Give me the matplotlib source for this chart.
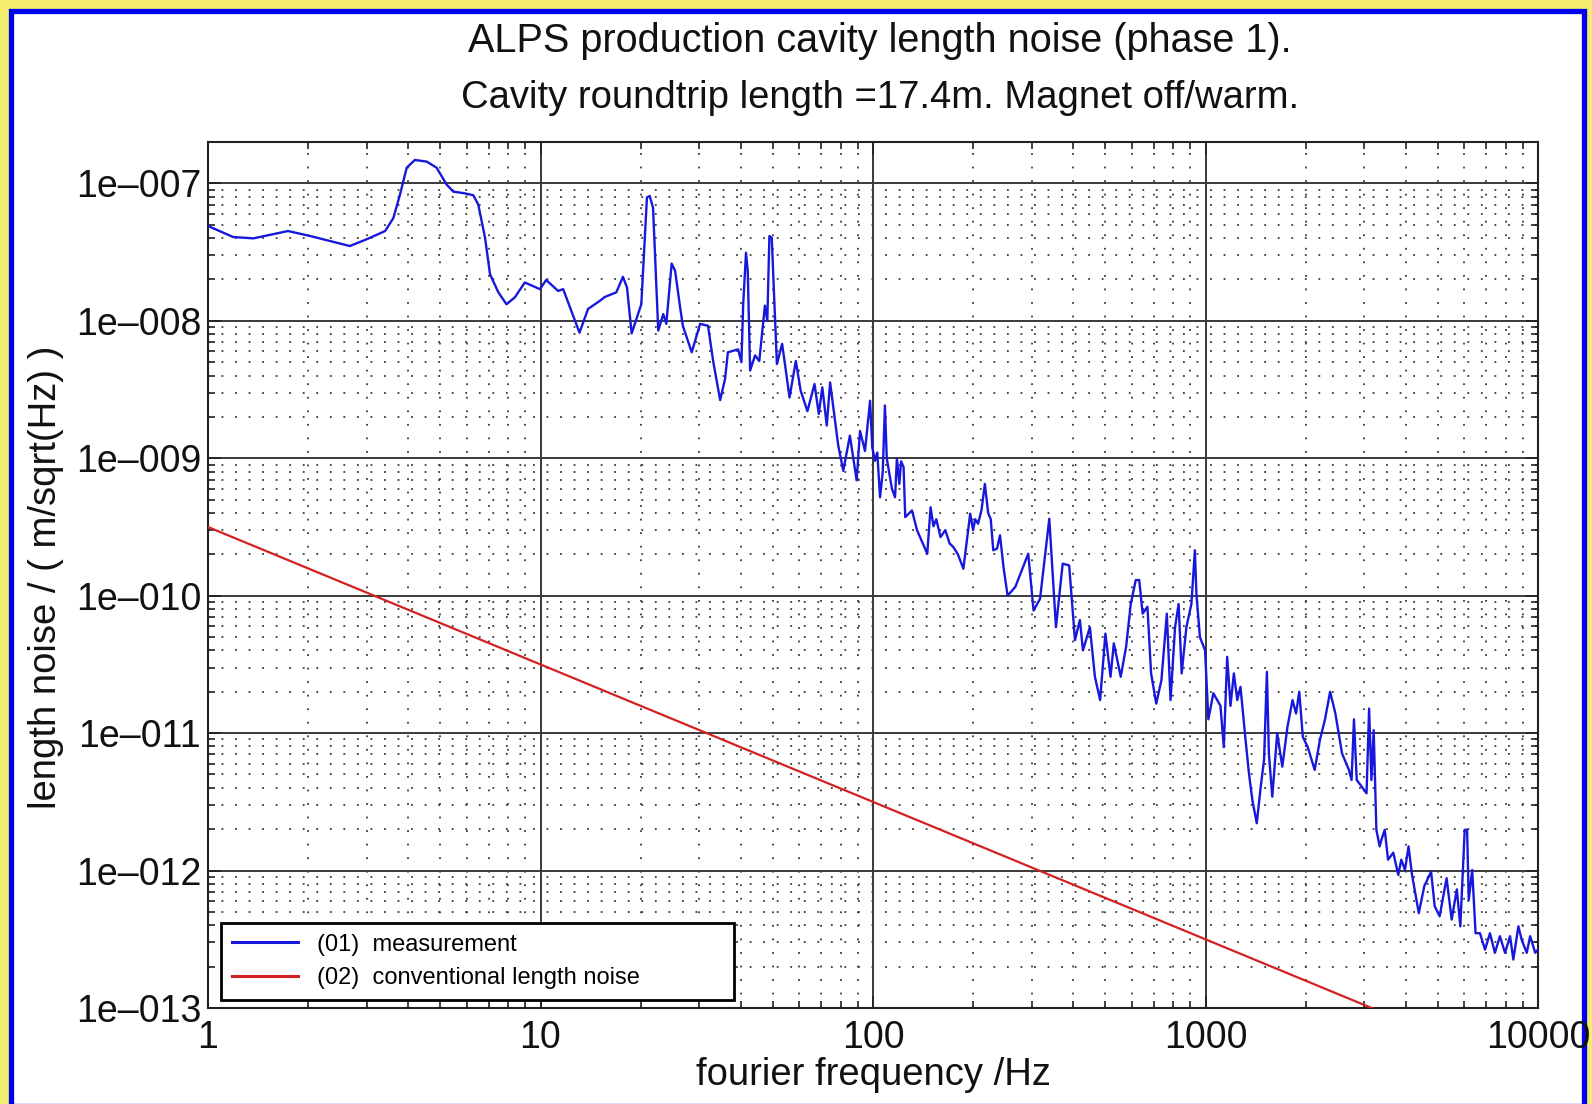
from __future__ import annotations

import matplotlib

matplotlib.use("Agg")
import matplotlib.pyplot as plt
import numpy as np
from matplotlib.patches import Rectangle
from matplotlib.ticker import FixedLocator, FuncFormatter, LogLocator, NullFormatter

plt.rcParams["font.family"] = ["Liberation Sans", "DejaVu Sans"]

FIG_W, FIG_H = 1592, 1104

TITLE_1 = "ALPS production cavity length noise (phase 1)."
TITLE_2 = "Cavity roundtrip length =17.4m. Magnet off/warm."
X_LABEL = "fourier frequency /Hz"
Y_LABEL = "length noise / ( m/sqrt(Hz) )"
LEGEND_LABELS = ["(01)  measurement", "(02)  conventional length noise"]

X_TICKS = [1, 10, 100, 1000, 10000]
Y_TICKS = [1e-13, 1e-12, 1e-11, 1e-10, 1e-9, 1e-8, 1e-7]

meas_freq = [
    1.0, 1.19, 1.37, 1.74, 2.03, 2.67, 3.0, 3.41, 3.61, 3.78,
    3.96, 4.19, 4.55, 4.87, 5.22, 5.47, 5.86, 6.28, 6.5, 6.81,
    7.05, 7.47, 7.9, 8.37, 8.97, 9.96, 10.4, 11.3, 11.7, 13.1,
    13.9, 15.1, 15.6, 16.9, 17.7, 18.2, 18.8, 20.1, 20.9, 21.3,
    21.8, 22.6, 23.4, 23.9, 24.8, 25.4, 26.3, 26.8, 28.5, 30.2,
    31.9, 33.1, 34.7, 35.9, 36.6, 39.3, 40.2, 40.7, 41.5, 42.0,
    42.7, 44.2, 45.5, 47.3, 48.1, 48.8, 49.6, 51.4, 53.3, 56.1,
    58.6, 60.6, 63.5, 66.7, 68.7, 70.4, 72.6, 74.3, 78.6, 81.4,
    85.2, 89.3, 91.4, 94.6, 98.0, 99.5, 101.4, 103, 105, 107,
    108.6, 110, 112.5, 114, 116.5, 118, 120, 121.5, 123.6, 125,
    131, 135.7, 145.6, 149, 152, 155, 159.6, 165, 170, 174.4,
    180, 187, 196, 200, 203, 207, 212, 217, 222, 226,
    230, 236, 241, 247, 254, 268, 293, 304, 318, 339,
    355, 372, 389, 405, 419, 428, 449, 465, 482, 500,
    518, 530, 556, 577, 596, 617, 632, 647, 669, 686,
    711, 737, 765, 785, 810, 830, 848, 876, 907, 929,
    939, 962, 997, 1020, 1056, 1109, 1135, 1162, 1189, 1217,
    1246, 1274, 1320, 1351, 1383, 1426, 1466, 1500, 1530, 1551,
    1588, 1643, 1702, 1764, 1827, 1872, 1914, 1962, 2030, 2130,
    2208, 2288, 2370, 2458, 2575, 2700, 2750, 2796, 2850, 2950,
    3050, 3105, 3155, 3205, 3265, 3340, 3380, 3460, 3540, 3670,
    3800, 3880, 3980, 4080, 4180, 4380, 4550, 4770, 4890, 5060,
    5310, 5500, 5700, 5840, 6020, 6120, 6190, 6340, 6490, 6690,
    6930, 7170, 7420, 7680, 7960, 8240, 8430, 8730, 8930, 9250,
    9470, 9810, 10000,
]
meas_noise = [
    4.9e-8, 4.07e-8, 3.98e-8, 4.5e-8, 4.14e-8, 3.5e-8, 3.92e-8, 4.5e-8, 5.6e-8, 8.3e-8,
    1.30e-7, 1.48e-7, 1.44e-7, 1.30e-7, 9.8e-8, 8.7e-8, 8.5e-8, 8.2e-8, 7.0e-8, 4.03e-8,
    2.18e-8, 1.61e-8, 1.32e-8, 1.48e-8, 1.90e-8, 1.70e-8, 1.98e-8, 1.65e-8, 1.70e-8, 8.2e-9,
    1.22e-8, 1.40e-8, 1.49e-8, 1.61e-8, 2.09e-8, 1.75e-8, 8.1e-9, 1.32e-8, 7.9e-8, 8.1e-8,
    6.65e-8, 8.5e-9, 1.12e-8, 9.5e-9, 2.61e-8, 2.31e-8, 1.25e-8, 9.2e-9, 5.9e-9, 9.5e-9,
    9.2e-9, 5.0e-9, 2.65e-9, 3.78e-9, 5.9e-9, 6.2e-9, 5.0e-9, 1.32e-8, 3.13e-8, 2.31e-8,
    4.35e-9, 5.6e-9, 5.1e-9, 1.29e-8, 1.0e-8, 4.14e-8, 4.03e-8, 4.85e-9, 6.8e-9, 2.77e-9,
    5.1e-9, 3.1e-9, 2.2e-9, 3.47e-9, 2.1e-9, 3.28e-9, 1.73e-9, 3.56e-9, 1.24e-9, 8.1e-10,
    1.46e-9, 6.9e-10, 1.58e-9, 1.13e-9, 2.62e-9, 1.2e-9, 9.6e-10, 1.1e-9, 5.2e-10, 8.0e-10,
    2.42e-9, 1.0e-9, 7.3e-10, 6.0e-10, 5.2e-10, 1.0e-9, 6.5e-10, 9.5e-10, 8.6e-10, 3.73e-10,
    4.17e-10, 2.99e-10, 2.02e-10, 4.4e-10, 3.2e-10, 3.6e-10, 2.67e-10, 3.0e-10, 2.4e-10, 2.26e-10,
    2.0e-10, 1.57e-10, 3.95e-10, 3.0e-10, 3.6e-10, 3.34e-10, 4.2e-10, 6.5e-10, 4.0e-10, 3.6e-10,
    2.14e-10, 2.2e-10, 2.75e-10, 1.6e-10, 1.0e-10, 1.16e-10, 2.02e-10, 7.8e-11, 9.5e-11, 3.63e-10,
    5.9e-11, 1.71e-10, 1.66e-10, 4.75e-11, 6.65e-11, 4.0e-11, 5.9e-11, 2.57e-11, 1.74e-11, 5.3e-11,
    2.57e-11, 4.5e-11, 2.57e-11, 4.24e-11, 8.7e-11, 1.30e-10, 1.30e-10, 7.4e-11, 8.3e-11, 2.72e-11,
    1.64e-11, 2.43e-11, 7.4e-11, 1.74e-11, 5.9e-11, 8.7e-11, 2.72e-11, 5.9e-11, 8.7e-11, 2.14e-10,
    1.03e-10, 5.0e-11, 4.0e-11, 1.26e-11, 1.95e-11, 1.58e-11, 7.9e-12, 3.59e-11, 1.58e-11, 2.72e-11,
    1.74e-11, 2.17e-11, 8.9e-12, 5.1e-12, 3.27e-12, 2.21e-12, 4.08e-12, 6.4e-12, 2.79e-11, 7.1e-12,
    3.45e-12, 1.0e-11, 5.7e-12, 1.11e-11, 1.74e-11, 1.39e-11, 2.0e-11, 9.4e-12, 7.9e-12, 5.4e-12,
    8.9e-12, 1.26e-11, 2.0e-11, 1.39e-11, 7.1e-12, 5.4e-12, 4.56e-12, 1.26e-11, 4.56e-12, 4.08e-12,
    3.65e-12, 1.51e-11, 4.56e-12, 1.05e-11, 1.98e-12, 1.5e-12, 1.67e-12, 1.98e-12, 1.2e-12, 1.35e-12,
    9.3e-13, 1.2e-12, 1.01e-12, 1.5e-12, 9.3e-13, 4.9e-13, 7.7e-13, 9.8e-13, 5.5e-13, 4.65e-13,
    8.8e-13, 4.4e-13, 7.3e-13, 3.93e-13, 1.98e-12, 1.98e-12, 6.1e-13, 1.01e-12, 3.5e-13, 3.5e-13,
    2.66e-13, 3.5e-13, 2.52e-13, 3.33e-13, 2.52e-13, 3.33e-13, 2.25e-13, 3.93e-13, 3.14e-13, 2.52e-13,
    3.33e-13, 2.52e-13, 2.66e-13,
]

# (02) conventional length noise, straight 1/f line
conv_freq = [1, 10000]
conv_noise = [3.16e-10, 3.16e-14]


def px_x(x: float) -> float:
    return x / FIG_W


def px_y(y: float) -> float:
    return 1.0 - y / FIG_H


def y_label_fmt(value: float, pos: int) -> str:
    exp = int(round(np.log10(value)))
    return f"1e\u2013{-exp:03d}"


def draw_frame(fig: plt.Figure) -> None:
    fig.patch.set_facecolor("#f3ec6c")
    frame = Rectangle(
        (px_x(10.5), px_y(1105.5)),
        px_x(1583.5) - px_x(10.5),
        px_y(10.5) - px_y(1105.5),
        transform=fig.transFigure,
        facecolor="white",
        edgecolor="#0000f0",
        linewidth=3.8,
        zorder=-10,
    )
    fig.patches.append(frame)


def main() -> None:
    fig = plt.figure(figsize=(FIG_W / 100, FIG_H / 100), dpi=100)
    draw_frame(fig)

    left, right, top, bottom = 208, 1538, 142, 1008
    ax = fig.add_axes([px_x(left), px_y(bottom), (right - left) / FIG_W, (bottom - top) / FIG_H])
    ax.set_facecolor("white")

    ax.loglog(meas_freq, meas_noise, color="#1818dc", lw=1.7, label=LEGEND_LABELS[0], zorder=3)
    ax.loglog(conv_freq, conv_noise, color="#d42020", lw=1.6, label=LEGEND_LABELS[1], zorder=3)

    ax.set_xlim(1, 10000)
    ax.set_ylim(1e-13, 2e-7)

    ax.xaxis.set_major_locator(FixedLocator(X_TICKS))
    ax.xaxis.set_major_formatter(FuncFormatter(lambda v, p: f"{int(round(v))}"))
    ax.xaxis.set_minor_locator(LogLocator(base=10, subs=np.arange(2, 10), numticks=20))
    ax.xaxis.set_minor_formatter(NullFormatter())
    ax.yaxis.set_major_locator(FixedLocator(Y_TICKS))
    ax.yaxis.set_major_formatter(FuncFormatter(y_label_fmt))
    ax.yaxis.set_minor_locator(LogLocator(base=10, subs=np.arange(2, 10), numticks=20))
    ax.yaxis.set_minor_formatter(NullFormatter())

    ax.tick_params(which="both", direction="in", top=True, right=True, width=1.2, colors="#222222")
    ax.tick_params(which="major", length=9, labelsize=27, labelcolor="#111111")
    ax.tick_params(which="minor", length=5)
    ax.tick_params(axis="x", which="major", pad=9)
    ax.tick_params(axis="y", which="major", pad=5)

    ax.grid(which="major", color="#3a3a3a", lw=1.4, ls="-", zorder=1)
    ax.grid(which="minor", color="#3a3a3a", lw=1.3, ls=(0, (1, 6.5)), zorder=1)
    ax.set_axisbelow(True)
    for spine in ax.spines.values():
        spine.set_linewidth(1.5)
        spine.set_color("#222222")

    leg = ax.legend(
        loc="lower left",
        bbox_to_anchor=(13 / (right - left), 8 / (bottom - top), 513 / (right - left), 0.09),
        mode="expand",
        borderaxespad=0,
        fontsize=17,
        frameon=True,
        fancybox=False,
        framealpha=1,
        handlelength=2.8,
        handletextpad=0.8,
        borderpad=0.45,
        labelspacing=0.5,
    )
    leg.get_frame().set_edgecolor("black")
    leg.get_frame().set_linewidth(2.0)
    for line in leg.get_lines():
        line.set_linewidth(2.2)

    cx = px_x(880)
    fig.text(cx, px_y(41), TITLE_1, ha="center", va="center", fontsize=28.5, color="#111111")
    fig.text(cx, px_y(98), TITLE_2, ha="center", va="center", fontsize=27.5, color="#111111")
    fig.text(px_x(873), px_y(1075), X_LABEL, ha="center", va="center", fontsize=27.5, color="#111111")
    fig.text(px_x(46), px_y(577), Y_LABEL, ha="center", va="center", rotation=90,
             fontsize=27.5, color="#111111")

    fig.savefig("out.png", dpi=100, facecolor=fig.get_facecolor())
    plt.close(fig)


if __name__ == "__main__":
    main()
